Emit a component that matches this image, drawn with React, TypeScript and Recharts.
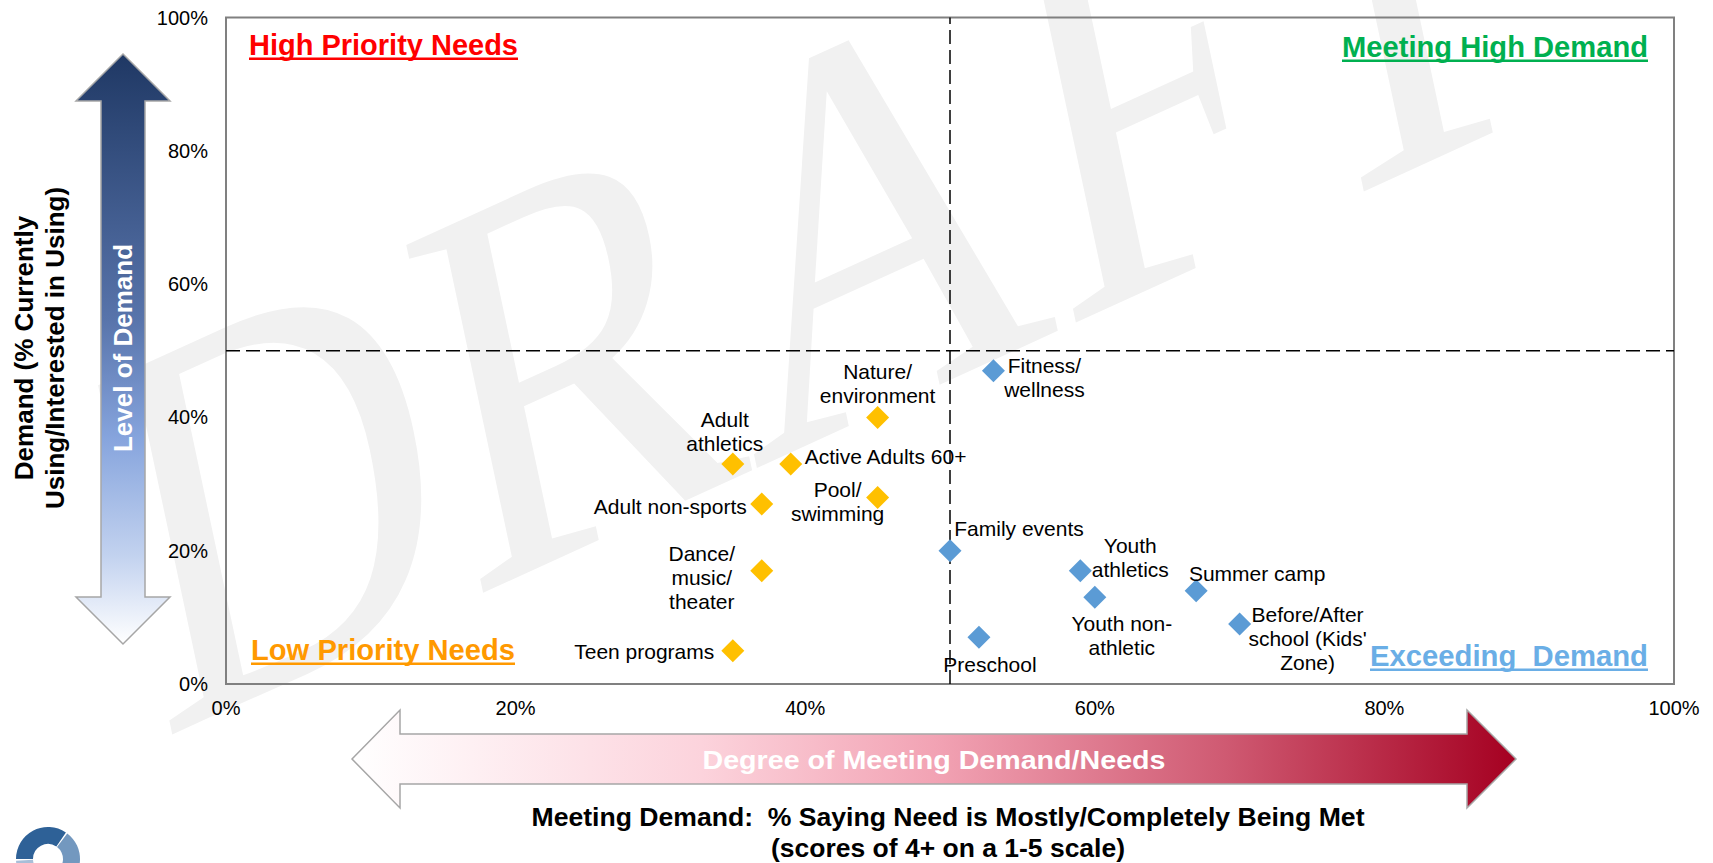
import React from 'react';
import { ScatterChart, Scatter, XAxis, YAxis, ReferenceLine, ReferenceArea } from 'recharts';

// ---------- data ----------
const lowPriorityNames = [
  'Nature/ environment',
  'Adult athletics',
  'Active Adults 60+',
  'Adult non-sports',
  'Pool/ swimming',
  'Dance/ music/ theater',
  'Teen programs',
];
const lowPriorityMet = [45, 35, 39, 37, 45, 37, 35];
const lowPriorityDemand = [40, 33, 33, 27, 28, 17, 5];

const exceedingNames = [
  'Fitness/ wellness',
  'Family events',
  'Youth athletics',
  'Youth non-athletic',
  'Summer camp',
  "Before/After school (Kids' Zone)",
  'Preschool',
];
const exceedingMet = [53, 50, 59, 60, 67, 70, 52];
const exceedingDemand = [47, 20, 17, 13, 14, 9, 7];

const xTicks = [0, 20, 40, 60, 80, 100];
const xTickLabels = ['0%', '20%', '40%', '60%', '80%', '100%'];
const yTicks = [0, 20, 40, 60, 80, 100];
const yTickLabels = ['0%', '20%', '40%', '60%', '80%', '100%'];

const labelLines: Record<string, string[]> = {
  'Nature/ environment': ['Nature/', 'environment'],
  'Adult athletics': ['Adult', 'athletics'],
  'Active Adults 60+': ['Active Adults 60+'],
  'Adult non-sports': ['Adult non-sports'],
  'Pool/ swimming': ['Pool/', 'swimming'],
  'Dance/ music/ theater': ['Dance/', 'music/', 'theater'],
  'Teen programs': ['Teen programs'],
  'Fitness/ wellness': ['Fitness/', 'wellness'],
  'Family events': ['Family events'],
  'Youth athletics': ['Youth', 'athletics'],
  'Youth non-athletic': ['Youth non-', 'athletic'],
  'Summer camp': ['Summer camp'],
  "Before/After school (Kids' Zone)": ['Before/After', "school (Kids'", 'Zone)'],
  'Preschool': ['Preschool'],
};

// label placement relative to the point (style config)
const labelPlacement: Record<string, { dx: number; dy: number; anchor: 'start' | 'middle' | 'end' }> = {
  'Nature/ environment': { dx: 0, dy: -46, anchor: 'middle' },
  'Adult athletics': { dx: -8, dy: -45, anchor: 'middle' },
  'Active Adults 60+': { dx: 14, dy: -8, anchor: 'start' },
  'Adult non-sports': { dx: -15, dy: 2, anchor: 'end' },
  'Pool/ swimming': { dx: -40, dy: -8, anchor: 'middle' },
  'Dance/ music/ theater': { dx: -60, dy: -17.5, anchor: 'middle' },
  'Teen programs': { dx: -18.5, dy: 1, anchor: 'end' },
  'Fitness/ wellness': { dx: 51, dy: -5.5, anchor: 'middle' },
  'Family events': { dx: 69, dy: -22, anchor: 'middle' },
  'Youth athletics': { dx: 50, dy: -25, anchor: 'middle' },
  'Youth non-athletic': { dx: 27, dy: 26, anchor: 'middle' },
  'Summer camp': { dx: 61, dy: -17.5, anchor: 'middle' },
  "Before/After school (Kids' Zone)": { dx: 68, dy: -10, anchor: 'middle' },
  'Preschool': { dx: 11, dy: 27, anchor: 'middle' },
};

const lowData = lowPriorityNames.map((name, i) => ({ name, x: lowPriorityMet[i], y: lowPriorityDemand[i] }));
const exData = exceedingNames.map((name, i) => ({ name, x: exceedingMet[i], y: exceedingDemand[i] }));

const FONT = "'Liberation Sans', Arial, Helvetica, sans-serif";
const W = 1713;
const H = 863;

const DiamondWithLabel = (props: any) => {
  const { cx, cy, payload, fill } = props;
  if (cx == null || cy == null) return null;
  const r = 11.5;
  const name = payload?.name as string;
  const lines = labelLines[name] || [name];
  const pl = labelPlacement[name] || { dx: 14, dy: 0, anchor: 'start' };
  return (
    <g>
      <polygon points={`${cx},${cy - r} ${cx + r},${cy} ${cx},${cy + r} ${cx - r},${cy}`} fill={fill} />
      {lines.map((ln, i) => (
        <text
          key={i}
          x={cx + pl.dx}
          y={cy + pl.dy + i * 24}
          textAnchor={pl.anchor}
          dominantBaseline="central"
          fontFamily={FONT}
          fontSize={21}
          fill="#000"
        >
          {ln}
        </text>
      ))}
    </g>
  );
};

const XTick = (props: any) => {
  const { x, y, payload, index } = props;
  const i = xTicks.indexOf(payload.value);
  return (
    <text x={x} y={y + 24} textAnchor="middle" dominantBaseline="central" fontFamily={FONT} fontSize={20} fill="#000">
      {xTickLabels[i >= 0 ? i : index]}
    </text>
  );
};

const YTick = (props: any) => {
  const { x, y, payload, index } = props;
  const i = yTicks.indexOf(payload.value);
  return (
    <text x={x - 18} y={y} textAnchor="end" dominantBaseline="central" fontFamily={FONT} fontSize={20} fill="#000">
      {yTickLabels[i >= 0 ? i : index]}
    </text>
  );
};

function arcPath(cx: number, cy: number, r0: number, r1: number, a0: number, a1: number) {
  const rad = (a: number) => (a * Math.PI) / 180;
  const p = (r: number, a: number) => `${cx + r * Math.cos(rad(a))},${cy + r * Math.sin(rad(a))}`;
  const large = Math.abs(a1 - a0) > 180 ? 1 : 0;
  return `M${p(r1, a0)} A${r1},${r1} 0 ${large} 1 ${p(r1, a1)} L${p(r0, a1)} A${r0},${r0} 0 ${large} 0 ${p(r0, a0)} Z`;
}

const Background = () => (
  <svg width={W} height={H} style={{ position: 'absolute', left: 0, top: 0 }}>
    <defs>
      <linearGradient id="vGrad" x1="0" y1="0" x2="0" y2="1">
        <stop offset="0" stopColor="#1f3864" />
        <stop offset="0.45" stopColor="#5874ab" />
        <stop offset="0.65" stopColor="#86a4dd" />
        <stop offset="0.85" stopColor="#c2d2ef" />
        <stop offset="1" stopColor="#ffffff" />
      </linearGradient>
      <linearGradient id="hGrad" x1="0" y1="0" x2="1" y2="0">
        <stop offset="0" stopColor="#ffffff" />
        <stop offset="0.3" stopColor="#fcd3dc" />
        <stop offset="0.5" stopColor="#f2a3b4" />
        <stop offset="0.75" stopColor="#cf5a72" />
        <stop offset="1" stopColor="#a50021" />
      </linearGradient>
    </defs>

    {/* watermark */}
    <text
      transform="translate(160,740) rotate(-12) skewY(-12.5) scale(0.84,1)"
      fontFamily="'Liberation Serif', 'Times New Roman', serif"
      fontSize={545}
      fill="#f1f1f1"
    >
      DRAFT
    </text>

    {/* vertical arrow */}
    <path
      d="M123,54 L170,101 L145,101 L145,597 L170,597 L123,644 L76,597 L101,597 L101,101 L76,101 Z"
      fill="url(#vGrad)"
      stroke="#a6a6a6"
      strokeWidth={1.5}
    />
    <text
      transform="translate(123,348) rotate(-90)"
      textAnchor="middle"
      dominantBaseline="central"
      fontFamily={FONT}
      fontWeight="bold"
      fontSize={26}
      fill="#fff"
    >
      Level of Demand
    </text>

    {/* y axis title */}
    <text transform="translate(24,348) rotate(-90)" textAnchor="middle" dominantBaseline="central" fontFamily={FONT} fontWeight="bold" fontSize={26} fill="#000">
      Demand (% Currently
    </text>
    <text transform="translate(55,348) rotate(-90)" textAnchor="middle" dominantBaseline="central" fontFamily={FONT} fontWeight="bold" fontSize={26} fill="#000">
      Using/Interested in Using)
    </text>

    {/* horizontal arrow */}
    <path
      d="M352,759 L400,710 L400,734 L1467,734 L1467,710 L1516,759 L1467,808 L1467,784 L400,784 L400,808 Z"
      fill="url(#hGrad)"
      stroke="#a6a6a6"
      strokeWidth={1.5}
    />
    <text x={934} y={760} textAnchor="middle" dominantBaseline="central" fontFamily={FONT} fontWeight="bold" fontSize={26} fill="#fff" textLength={463} lengthAdjust="spacingAndGlyphs">
      Degree of Meeting Demand/Needs
    </text>

    {/* x axis title */}
    <text x={948} y={817} textAnchor="middle" dominantBaseline="central" fontFamily={FONT} fontWeight="bold" fontSize={26} fill="#000" textLength={833} lengthAdjust="spacingAndGlyphs" style={{ whiteSpace: 'pre' }}>
      {'Meeting Demand:  % Saying Need is Mostly/Completely Being Met'}
    </text>
    <text x={948} y={848} textAnchor="middle" dominantBaseline="central" fontFamily={FONT} fontWeight="bold" fontSize={26} fill="#000" textLength={354} lengthAdjust="spacingAndGlyphs">
      (scores of 4+ on a 1-5 scale)
    </text>

    {/* quadrant titles */}
    <text x={249} y={55} fontFamily={FONT} fontWeight="bold" fontSize={29} fill="#ff0000" textLength={269} lengthAdjust="spacingAndGlyphs">
      High Priority Needs
    </text>
    <rect x={249} y={57.5} width={269} height={2.5} fill="#ff0000" />
    <text x={1342} y={57} fontFamily={FONT} fontWeight="bold" fontSize={29} fill="#00b050" textLength={306} lengthAdjust="spacingAndGlyphs">
      Meeting High Demand
    </text>
    <rect x={1342} y={59.5} width={306} height={2.5} fill="#00b050" />
    <text x={251} y={660} fontFamily={FONT} fontWeight="bold" fontSize={29} fill="#ff9900" textLength={264} lengthAdjust="spacingAndGlyphs">
      Low Priority Needs
    </text>
    <rect x={251} y={662.5} width={264} height={2.5} fill="#ff9900" />
    <text x={1370} y={666} fontFamily={FONT} fontWeight="bold" fontSize={29} fill="#6aaee6" textLength={278} lengthAdjust="spacingAndGlyphs" style={{ whiteSpace: 'pre' }}>
      {'Exceeding  Demand'}
    </text>
    <rect x={1370} y={668.5} width={278} height={2.5} fill="#6aaee6" />

    {/* logo */}
    <path d={arcPath(48, 859, 15, 32, 180, 304)} fill="#2e6197" />
    <path d={arcPath(48, 859, 15, 32, 307, 420)} fill="#7398bf" />
    <path d={arcPath(48, 859, 15, 32, 150, 177)} fill="#a7bed8" />
  </svg>
);

export default function App() {
  return (
    <div style={{ position: 'absolute', left: 0, top: 0, width: W, height: H, overflow: 'hidden', background: '#fff', fontFamily: FONT }}>
      <Background />
      <div style={{ position: 'absolute', left: 0, top: 0 }}>
        <ScatterChart width={W} height={H} margin={{ top: 17.5, right: 39, bottom: 0, left: 0 }}>
          <XAxis
            type="number"
            dataKey="x"
            domain={[0, 100]}
            ticks={xTicks}
            interval={0}
            axisLine={false}
            tickLine={false}
            tickSize={0}
            tickMargin={0}
            height={179}
            tick={<XTick />}
          />
          <YAxis
            type="number"
            dataKey="y"
            domain={[0, 100]}
            ticks={yTicks}
            interval={0}
            axisLine={false}
            tickLine={false}
            tickSize={0}
            tickMargin={0}
            width={226}
            tick={<YTick />}
          />
          <ReferenceArea x1={0} x2={100} y1={0} y2={100} fill="none" fillOpacity={0} stroke="#808080" strokeWidth={2} />
          <Scatter name="Low Priority" data={lowData} fill="#ffc000" shape={DiamondWithLabel} isAnimationActive={false} />
          <Scatter name="Exceeding" data={exData} fill="#5b9bd5" shape={DiamondWithLabel} isAnimationActive={false} />
          <ReferenceLine x={50} stroke="#000" strokeWidth={1.5} strokeDasharray="14 6" />
          <ReferenceLine y={50} stroke="#000" strokeWidth={1.5} strokeDasharray="14 6" />
        </ScatterChart>
      </div>
    </div>
  );
}
